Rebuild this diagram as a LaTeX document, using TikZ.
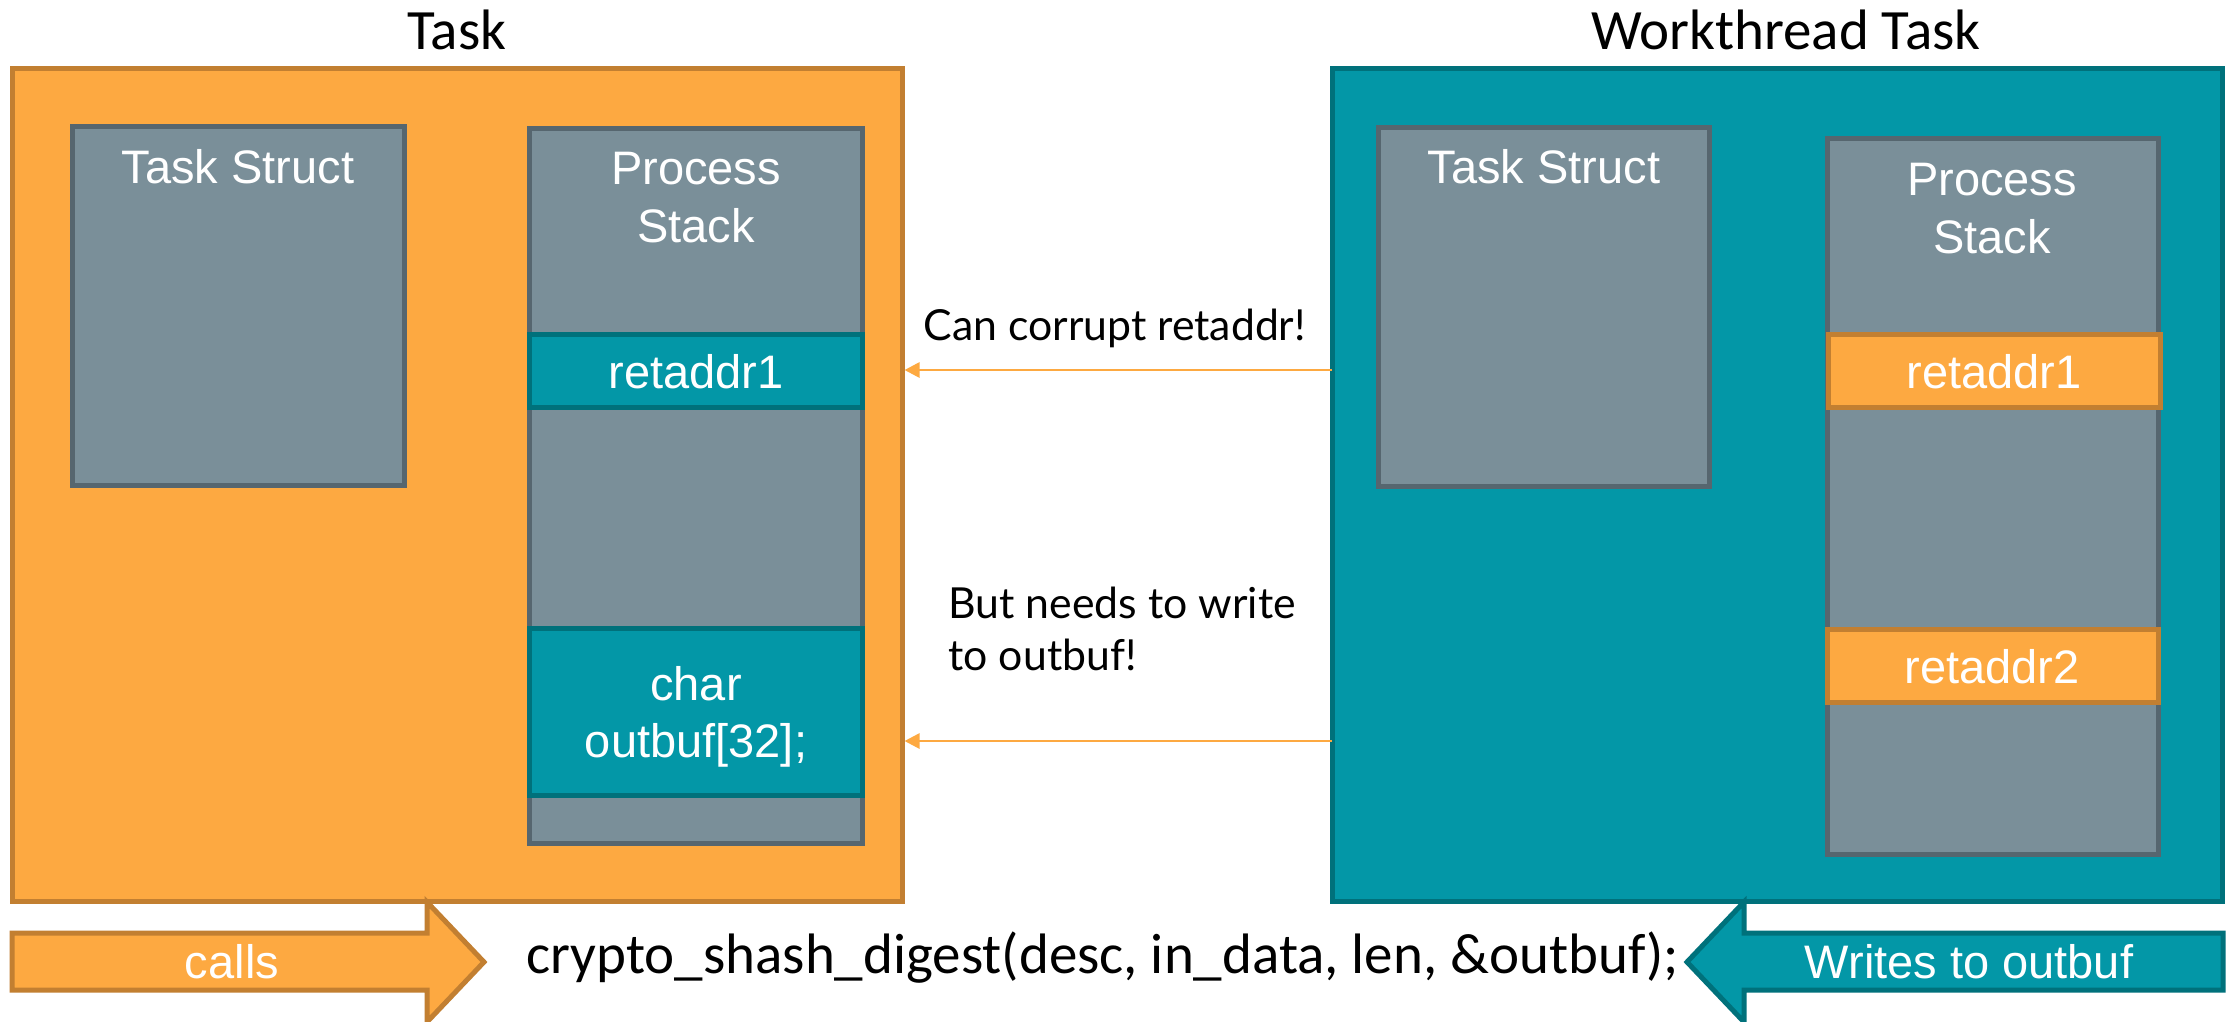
\documentclass[tikz,border=0pt]{standalone}
\usepackage{fontspec}
\setmainfont{Liberation Sans}
\newfontfamily\calfont{Carlito}
\newfontfamily\latofont{Lato}
\usetikzlibrary{fit,arrows.meta}
\definecolor{orfill}{HTML}{FDA941}
\definecolor{ordraw}{HTML}{C27F31}
\definecolor{tlfill}{HTML}{0397A7}
\definecolor{tldraw}{HTML}{00717B}
\definecolor{gyfill}{HTML}{7A8F99}
\definecolor{gydraw}{HTML}{56666F}
\tikzset{
  obox/.style={fill=orfill,draw=ordraw,line width=2pt,inner sep=0pt},
  tbox/.style={fill=tlfill,draw=tldraw,line width=2pt,inner sep=0pt},
  gbox/.style={fill=gyfill,draw=gydraw,line width=2pt,inner sep=0pt},
  wlab/.style={text=white,font=\fontsize{18.8}{22.4}\selectfont,align=center,inner sep=0pt,anchor=base},
  title/.style={font=\calfont\fontsize{22.8}{27}\selectfont,inner sep=0pt,anchor=base},
  note/.style={font=\latofont\fontsize{17.1}{20.8}\selectfont,inner sep=0pt,anchor=base west,align=left},
  conn/.style={draw=orfill,line width=1.1pt,-{Triangle[length=6pt,width=6pt]}},
}
\begin{document}
\begin{tikzpicture}[x=0.4pt,y=-0.4pt]
\useasboundingbox[fill=white] (0,0) rectangle (2231,1021);
% left task
\node[obox,fit={(12,68)(902,901)}] (lbox) {};
\node[title] (ltitle) at (457,49) {Task};
\node[gbox,fit={(72,126)(404,485)}] (lts) {};
\node[wlab] (ltsl) at (238,183) {Task Struct};
\node[gbox,fit={(529,128)(862,843)}] (lps) {};
\node[wlab] (lpsl) at (696,184) {Process};
\node[wlab] (lpsl2) at (696,242) {Stack};
\node[tbox,fit={(529,334)(862,407)}] (lra) {};
\node[wlab] (lral) at (696,388) {retaddr1};
\node[tbox,fit={(529,628)(862,795)}] (lob) {};
\node[wlab] (lobl) at (696,700) {char};
\node[wlab] (lobl2) at (696,757) {outbuf[32];};
% right task
\node[tbox,fit={(1332,68)(2222,901)}] (rbox) {};
\node[title] (rtitle) at (1786,49) {Workthread Task};
\node[gbox,fit={(1378,127)(1709,486)}] (rts) {};
\node[wlab] (rtsl) at (1544,183) {Task Struct};
\node[gbox,fit={(1827,138)(2158,854)}] (rps) {};
\node[wlab] (rpsl) at (1992,195) {Process};
\node[wlab] (rpsl2) at (1992,253) {Stack};
\node[obox,fit={(1828,334)(2160,407)}] (rra1) {};
\node[wlab] (rra1l) at (1994,388) {retaddr1};
\node[obox,fit={(1827,629)(2158,702)}] (rra2) {};
\node[wlab] (rra2l) at (1992,683) {retaddr2};
% connectors
\coordinate (c1) at (1332,370);
\coordinate (c2) at (1332,741);
\draw[conn] (c1) -- (lbox.east |- c1);
\draw[conn] (c2) -- (lbox.east |- c2);
\node[note] (n1) at (923,340) {Can corrupt retaddr!};
\node[note] (n2) at (948,670) {But needs to write\\to outbuf!};
% bottom arrows
\draw[fill=orfill,draw=ordraw,line width=2pt,line join=miter]
  (12,933) -- (427,933) -- (427,902) -- (484,962) -- (427,1022) -- (427,990) -- (12,990) -- cycle;
\node[wlab] (calls) at (232,978) {calls};
\draw[fill=tlfill,draw=tldraw,line width=2pt,line join=miter]
  (2223,933) -- (1744,933) -- (1744,902) -- (1687,962) -- (1744,1022) -- (1744,990) -- (2223,990) -- cycle;
\node[wlab] (writes) at (1969,978) {Writes to outbuf};
\node[title,anchor=base west] (call) at (526,973) {crypto\_shash\_digest(desc, in\_data, len, \&outbuf);};
\end{tikzpicture}
\end{document}
